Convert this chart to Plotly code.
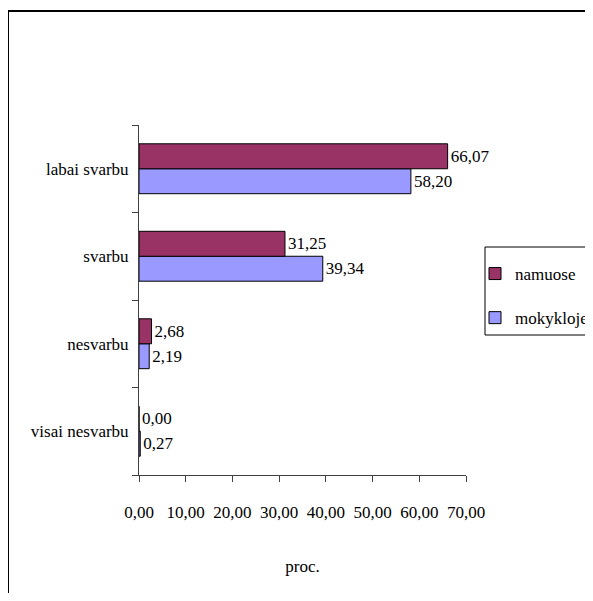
import plotly.graph_objects as go

categories = ["visai nesvarbu", "nesvarbu", "svarbu", "labai svarbu"]
namuose = [0.00, 2.68, 31.25, 66.07]
mokykloje = [0.27, 2.19, 39.34, 58.20]
x_ticks = [0, 10, 20, 30, 40, 50, 60, 70]

FONT = "Liberation Serif"

def fmt(v):
    return f"{v:.2f}".replace(".", ",")

fig = go.Figure()
fig.add_trace(go.Bar(
    y=categories, x=mokykloje, orientation="h", name="mokykloje",
    marker=dict(color="#9999FF", line=dict(color="#000000", width=1)),
    text=[fmt(v) for v in mokykloje], textposition="outside",
    textfont=dict(family=FONT, size=17, color="#000000"),
    legendgroup="b", legendrank=2, cliponaxis=False,
))
fig.add_trace(go.Bar(
    y=categories, x=namuose, orientation="h", name="namuose",
    marker=dict(color="#993366", line=dict(color="#000000", width=1)),
    text=[fmt(v) for v in namuose], textposition="outside",
    textfont=dict(family=FONT, size=17, color="#000000"),
    legendgroup="a", legendrank=1, cliponaxis=False,
))

# page is offset by the 8px body margin
OFF = 8
W, H = 593 - OFF, 601 - 2 * OFF
L, R, T, B = 139 - OFF, W - (466 - OFF), 125 - OFF, H - (475 - OFF)
pw, ph = W - L - R, H - T - B

def px(x):
    return (x - L) / pw

def py(y):
    return (H - B - y) / ph

fig.update_layout(
    width=W, height=H,
    margin=dict(l=L, r=R, t=T, b=B, autoexpand=False),
    paper_bgcolor="white", plot_bgcolor="white",
    barmode="group", bargap=0.43, bargroupgap=0,
    font=dict(family=FONT, size=17, color="#000000"),
    separators=", ",
    showlegend=True,
    legend=dict(
        xref="container", yref="container",
        x=1, y=1 - (256 - OFF) / H, xanchor="right", yanchor="top",
        traceorder="grouped", tracegroupgap=19,
        borderwidth=0, bgcolor="rgba(0,0,0,0)",
        font=dict(family=FONT, size=17),
        itemwidth=30,
    ),
    xaxis=dict(
        range=[0, 70], tickvals=x_ticks,
        ticktext=[fmt(v) for v in x_ticks],
        showgrid=False, zeroline=False,
        showline=True, linecolor="#404040", linewidth=1,
        ticks="outside", ticklen=6, tickcolor="#404040",
        ticklabelstandoff=16,
        title=dict(text="proc.", standoff=38, font=dict(family=FONT, size=17)),
    ),
    yaxis=dict(
        categoryorder="array", categoryarray=categories,
        showgrid=False, zeroline=False,
        showline=True, linecolor="#404040", linewidth=1,
        ticks="outside", ticklen=6, tickcolor="#404040",
        tickson="boundaries", ticklabelstandoff=6,
    ),
    shapes=[
        # outer chart border (cut at right and bottom like the reference)
        dict(type="path", xref="paper", yref="paper",
             path=f"M {px(0)},{py(640)} L {px(0)},{py(11 - OFF)} L {px(640)},{py(11 - OFF)}",
             line=dict(color="#000000", width=2)),
        # legend box
        dict(type="rect", xref="paper", yref="paper",
             x0=px(485 - OFF), x1=px(640), y0=py(335 - OFF), y1=py(247 - OFF),
             line=dict(color="#000000", width=1), fillcolor="rgba(0,0,0,0)",
             layer="below"),
    ],
)

fig.write_html("out.html")
